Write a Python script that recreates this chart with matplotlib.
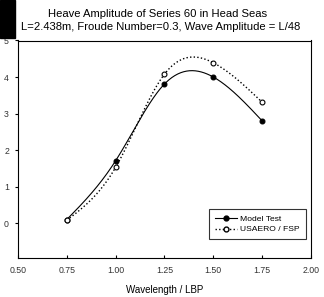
import numpy as np
import matplotlib
matplotlib.use("Agg")
import matplotlib.pyplot as plt
from matplotlib.patches import Rectangle

plt.rcParams['font.family'] = ['Liberation Sans', 'DejaVu Sans']

# wavelength / LBP
wavelength = [0.75, 1.00, 1.25, 1.50, 1.75]
model_test = [0.10, 1.71, 3.81, 4.00, 2.80]
usaero_fsp = [0.08, 1.53, 4.08, 4.39, 3.31]

x_ticks = [0.50, 0.75, 1.00, 1.25, 1.50, 1.75, 2.00]
y_ticks = [0, 1, 2, 3, 4, 5]


def spline(x, y, n=200):
    # natural cubic spline, just for drawing a smooth line through the points
    x = np.asarray(x, float)
    y = np.asarray(y, float)
    k = len(x)
    h = np.diff(x)
    A = np.zeros((k, k))
    b = np.zeros(k)
    A[0, 0] = A[-1, -1] = 1
    for i in range(1, k - 1):
        A[i, i - 1] = h[i - 1]
        A[i, i] = 2 * (h[i - 1] + h[i])
        A[i, i + 1] = h[i]
        b[i] = 6 * ((y[i + 1] - y[i]) / h[i] - (y[i] - y[i - 1]) / h[i - 1])
    M = np.linalg.solve(A, b)
    xs = np.linspace(x[0], x[-1], n)
    idx = np.clip(np.searchsorted(x, xs) - 1, 0, k - 2)
    x0, x1 = x[idx], x[idx + 1]
    hh = x1 - x0
    ys = (M[idx] * (x1 - xs) ** 3 / (6 * hh) + M[idx + 1] * (xs - x0) ** 3 / (6 * hh)
          + (y[idx] - M[idx] * hh ** 2 / 6) * (x1 - xs) / hh
          + (y[idx + 1] - M[idx + 1] * hh ** 2 / 6) * (xs - x0) / hh)
    return xs, ys


fig = plt.figure(figsize=(3.24, 2.97), dpi=100)
ax = fig.add_axes([18 / 324, 1 - 257.5 / 297, 293 / 324, 217 / 297])

xs, ys = spline(wavelength, model_test)
ax.plot(xs, ys, color='black', lw=0.8)
xs, ys = spline(wavelength, usaero_fsp)
ax.plot(xs, ys, color='black', lw=1.0, linestyle=(0, (1, 1.6)))

ax.plot(wavelength, model_test, 'o', color='black', ms=3.5, mfc='black', mew=0.8)
ax.plot(wavelength, usaero_fsp, 'o', color='black', ms=3.5, mfc='white', mew=0.8)

# legend handles
ax.plot([], [], '-o', color='black', lw=0.8, ms=3.5, mfc='black', label='Model Test')
ax.plot([], [], 'o', color='black', lw=1.0, ms=3.5, mfc='white', linestyle=(0, (1, 1.6)),
        label='USAERO / FSP')
handles, labels = ax.get_legend_handles_labels()
leg = ax.legend(handles, labels, loc='lower right', bbox_to_anchor=(1.0, 0.06),
                fontsize=6.1, frameon=True, fancybox=False, edgecolor='black',
                handlelength=2.6, handletextpad=0.4, borderpad=0.7, labelspacing=0.35,
                borderaxespad=0.6)
leg.get_frame().set_linewidth(0.8)

ax.set_xlim(0.5, 2.0)
ax.set_ylim(-0.94, 5.0)
ax.set_xticks(x_ticks)
ax.set_xticklabels([f'{v:.2f}' for v in x_ticks])
ax.set_yticks(y_ticks)
ax.tick_params(axis='x', direction='in', length=2.5, width=0.8, labelsize=6.3,
               pad=6, labelcolor='#333333')
ax.tick_params(axis='y', direction='out', length=2.5, width=0.8, labelsize=6.3,
               pad=4, labelcolor='#333333')
for s in ax.spines.values():
    s.set_linewidth(0.8)
ax.set_xlabel('Wavelength / LBP', fontsize=7, labelpad=7)

fig.text(157.5 / 324, 1 - 14 / 297, 'Heave Amplitude of Series 60 in Head Seas',
         ha='center', va='center', fontsize=8.1)
fig.text(161 / 324, 1 - 27 / 297, 'L=2.438m, Froude Number=0.3, Wave Amplitude = L/48',
         ha='center', va='center', fontsize=8.1)

fig.patches.append(Rectangle((0, 1 - 38 / 297), 15 / 324, 38 / 297,
                             transform=fig.transFigure, color='black', zorder=5))

fig.savefig('out.png', dpi=100)
